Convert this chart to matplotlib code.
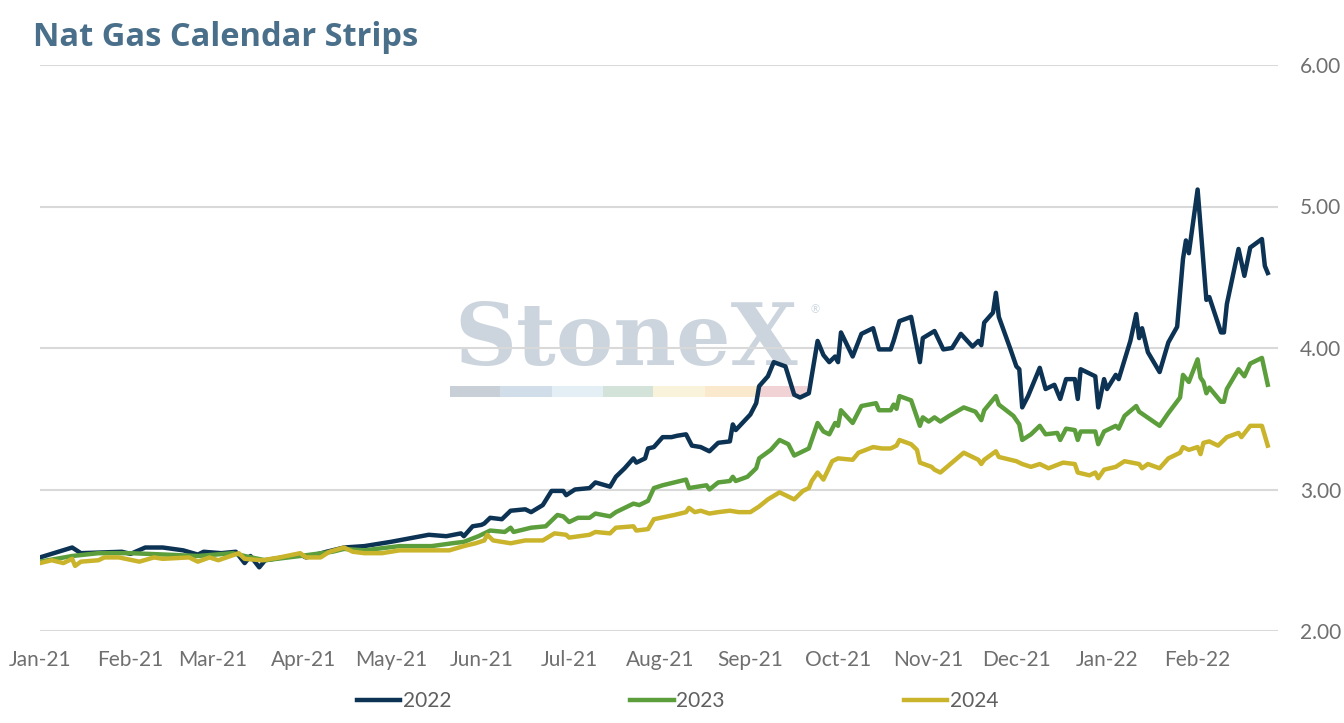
import numpy as np
import pandas as pd
import matplotlib
matplotlib.use("Agg")
import matplotlib.pyplot as plt
import matplotlib.dates as mdates
from matplotlib.patches import Rectangle

# day offsets from 2021-01-01 and settlement values
day_2022 = [0, 11, 14, 28, 31, 36, 42, 49, 54, 56, 62, 67, 70, 72, 75, 77, 89, 91, 98, 104,
            111, 120, 133, 139, 144, 145, 148, 151, 152, 154, 158, 161, 166, 168, 172, 175,
            179, 180, 183, 188, 190, 195, 197, 200, 203, 204, 207, 208, 210, 213, 216, 218,
            221, 223, 226, 229, 232, 236, 237, 238, 243, 245, 246, 249, 251, 255, 258, 260,
            263, 266, 268, 270, 272, 273, 274, 278, 281, 285, 287, 291, 292, 294, 298, 301,
            302, 306, 309, 312, 315, 319, 321, 322, 323, 326, 327, 328, 332, 334, 335, 336,
            338, 342, 344, 347, 349, 351, 354, 355, 356, 361, 362, 364, 365, 368, 369, 373,
            375, 376, 377, 379, 383, 386, 389, 391, 392, 393, 396, 399, 400, 404, 405, 406,
            410, 412, 414, 418, 419, 420]
val_2022 = [2.52, 2.59, 2.55, 2.56, 2.545, 2.59, 2.59, 2.57, 2.54, 2.56, 2.55, 2.56, 2.48, 2.53,
            2.45, 2.50, 2.54, 2.52, 2.56, 2.59, 2.60, 2.63, 2.68, 2.67, 2.69, 2.67, 2.74, 2.75,
            2.76, 2.80, 2.79, 2.85, 2.86, 2.84, 2.89, 2.99, 2.99, 2.96, 3.00, 3.01, 3.05, 3.02,
            3.09, 3.15, 3.22, 3.19, 3.22, 3.29, 3.30, 3.37, 3.37, 3.38, 3.39, 3.31, 3.30, 3.27,
            3.33, 3.34, 3.46, 3.42, 3.53, 3.61, 3.73, 3.80, 3.90, 3.87, 3.67, 3.65, 3.68, 4.05,
            3.95, 3.90, 3.94, 3.90, 4.11, 3.94, 4.10, 4.14, 3.99, 3.99, 4.05, 4.19, 4.22, 3.90,
            4.07, 4.12, 3.99, 4.00, 4.10, 4.01, 4.05, 4.02, 4.18, 4.25, 4.39, 4.22, 3.99, 3.87,
            3.85, 3.58, 3.66, 3.86, 3.71, 3.74, 3.64, 3.78, 3.78, 3.64, 3.85, 3.80, 3.58, 3.78,
            3.71, 3.81, 3.78, 4.05, 4.24, 4.07, 4.14, 3.97, 3.83, 4.04, 4.15, 4.63, 4.76, 4.67,
            5.12, 4.34, 4.36, 4.11, 4.11, 4.31, 4.70, 4.51, 4.71, 4.77, 4.58, 4.53]

day_2023 = [0, 11, 20, 31, 43, 54, 66, 70, 77, 89, 100, 104, 111, 123, 134, 141, 145, 150, 154,
            159, 161, 162, 168, 173, 177, 179, 181, 184, 188, 190, 195, 197, 203, 205, 208, 210,
            213, 217, 221, 222, 228, 229, 232, 236, 237, 238, 242, 245, 246, 250, 253, 256, 258,
            261, 263, 266, 268, 270, 272, 273, 274, 278, 281, 286, 287, 291, 292, 293, 294, 298,
            301, 302, 304, 306, 308, 311, 316, 320, 322, 323, 327, 328, 333, 335, 336, 339, 342,
            344, 348, 349, 351, 354, 355, 356, 361, 362, 364, 368, 369, 371, 375, 376, 383, 386,
            390, 391, 393, 396, 397, 398, 399, 400, 404, 405, 406, 410, 412, 414, 418, 420]
val_2023 = [2.49, 2.53, 2.55, 2.55, 2.54, 2.53, 2.55, 2.53, 2.50, 2.53, 2.56, 2.58, 2.57, 2.60,
            2.60, 2.62, 2.63, 2.67, 2.71, 2.70, 2.73, 2.70, 2.73, 2.74, 2.82, 2.81, 2.77, 2.80,
            2.80, 2.83, 2.81, 2.84, 2.90, 2.89, 2.92, 3.01, 3.03, 3.05, 3.07, 3.01, 3.03, 3.00,
            3.05, 3.06, 3.09, 3.06, 3.09, 3.15, 3.22, 3.28, 3.35, 3.32, 3.24, 3.27, 3.29, 3.47,
            3.41, 3.39, 3.47, 3.45, 3.56, 3.47, 3.59, 3.61, 3.56, 3.56, 3.60, 3.57, 3.66, 3.63,
            3.45, 3.51, 3.48, 3.51, 3.48, 3.52, 3.58, 3.55, 3.49, 3.56, 3.66, 3.60, 3.52, 3.46,
            3.35, 3.39, 3.45, 3.39, 3.40, 3.35, 3.43, 3.42, 3.35, 3.41, 3.41, 3.32, 3.41, 3.45,
            3.43, 3.52, 3.59, 3.55, 3.45, 3.54, 3.65, 3.81, 3.76, 3.92, 3.79, 3.76, 3.68, 3.72,
            3.62, 3.62, 3.71, 3.85, 3.80, 3.89, 3.93, 3.74]

day_2024 = [0, 4, 8, 11, 12, 14, 20, 22, 27, 34, 39, 42, 51, 54, 58, 61, 68, 70, 76, 82, 89, 91,
            96, 99, 104, 107, 111, 117, 123, 134, 140, 145, 149, 152, 153, 155, 161, 166, 172,
            176, 180, 181, 188, 190, 195, 197, 203, 204, 208, 210, 217, 221, 222, 224, 226, 229,
            232, 236, 239, 243, 246, 249, 253, 258, 261, 263, 264, 266, 268, 271, 273, 278, 280,
            285, 288, 291, 293, 294, 298, 300, 301, 305, 306, 308, 316, 321, 322, 323, 327, 328,
            334, 336, 339, 342, 345, 350, 354, 355, 359, 361, 362, 364, 368, 371, 376, 377, 379,
            383, 386, 390, 391, 393, 396, 397, 398, 400, 403, 406, 410, 411, 414, 418, 420]
val_2024 = [2.48, 2.50, 2.48, 2.51, 2.46, 2.49, 2.50, 2.52, 2.52, 2.49, 2.52, 2.51, 2.52, 2.49,
            2.52, 2.50, 2.55, 2.51, 2.50, 2.52, 2.55, 2.52, 2.52, 2.56, 2.59, 2.56, 2.55, 2.55,
            2.57, 2.57, 2.57, 2.60, 2.62, 2.64, 2.68, 2.64, 2.62, 2.64, 2.64, 2.69, 2.68, 2.66,
            2.68, 2.70, 2.69, 2.73, 2.74, 2.71, 2.72, 2.79, 2.82, 2.84, 2.87, 2.84, 2.85, 2.83,
            2.84, 2.85, 2.84, 2.84, 2.88, 2.93, 2.98, 2.93, 2.99, 3.01, 3.06, 3.12, 3.07, 3.20,
            3.22, 3.21, 3.26, 3.30, 3.29, 3.29, 3.31, 3.35, 3.32, 3.28, 3.19, 3.16, 3.14, 3.12,
            3.26, 3.21, 3.18, 3.21, 3.27, 3.23, 3.20, 3.18, 3.16, 3.18, 3.15, 3.19, 3.18, 3.12,
            3.10, 3.12, 3.08, 3.14, 3.16, 3.20, 3.18, 3.15, 3.18, 3.15, 3.22, 3.26, 3.30, 3.28,
            3.30, 3.25, 3.33, 3.34, 3.31, 3.37, 3.40, 3.37, 3.45, 3.45, 3.31]

series = [("2022", day_2022, val_2022, "#0c3254"),
          ("2023", day_2023, val_2023, "#5c9e3c"),
          ("2024", day_2024, val_2024, "#c9b42c")]

start = pd.Timestamp("2021-01-01")

plt.rcParams["font.family"] = ["Lato", "DejaVu Sans"]

fig = plt.figure(figsize=(13.44, 7.23), dpi=100)
ax = fig.add_axes([40 / 1344, 1 - 631 / 723, (1278 - 40) / 1344, (631 - 65) / 723])

# watermark
ax.text(626 / 1344, 1 - 365 / 723, "StoneX", transform=fig.transFigure, ha="center",
        va="baseline", fontsize=62, family="DejaVu Serif", fontweight="bold",
        color="#ccd5de", zorder=0.5)
ax.text(815 / 1344, 1 - 310 / 723, "®", transform=fig.transFigure, ha="center",
        va="center", fontsize=8, color="#ccd5de", zorder=0.5)
band_x = [450, 500, 552, 603, 653, 705, 757, 807]
band_c = ["#c8cfd7", "#d1dde8", "#e3eef5", "#d4e3d9", "#f9f3dc", "#fbe9cd", "#f2d3d5"]
for x0, x1, c in zip(band_x[:-1], band_x[1:], band_c):
    ax.add_patch(Rectangle((x0 / 1344, 1 - 397 / 723), (x1 - x0) / 1344, 11 / 723,
                           transform=fig.transFigure, facecolor=c, edgecolor="none",
                           zorder=0.5, clip_on=False))

for name, days, vals, color in series:
    dates = start + pd.to_timedelta(days, unit="D")
    ax.plot(dates, vals, color=color, lw=3.2, label=name, zorder=3,
            solid_joinstyle="round")

ax.set_ylim(2, 6)
ax.set_yticks([2, 3, 4, 5, 6])
ax.set_yticklabels([f"{v:.2f}" for v in [2, 3, 4, 5, 6]])
ax.yaxis.tick_right()
ax.set_xlim(start, start + pd.Timedelta(days=423.5))
ax.xaxis.set_major_locator(mdates.MonthLocator())
ax.xaxis.set_major_formatter(mdates.DateFormatter("%b-%y"))
ax.grid(axis="y", color="#d9d9d9", lw=1.5, zorder=1)
ax.set_axisbelow(True)
for s in ax.spines.values():
    s.set_visible(False)
ax.tick_params(axis="both", length=0, labelsize=15, labelcolor="#6f6f6f")
ax.tick_params(axis="x", pad=14)
ax.tick_params(axis="y", pad=16)

fig.text(33 / 1344, 1 - 37 / 723, "Nat Gas Calendar Strips", fontsize=23.5,
         family="Open Sans", fontweight="bold", color="#4a6f8a", va="center", ha="left")

fig.legend(loc="center", bbox_to_anchor=(0.504, 1 - 701 / 723), ncol=3, frameon=False,
           fontsize=15, handlelength=2.1, handletextpad=0.1, columnspacing=8.6,
           labelcolor="#5f5f5f")

fig.savefig("out.png", dpi=100)
